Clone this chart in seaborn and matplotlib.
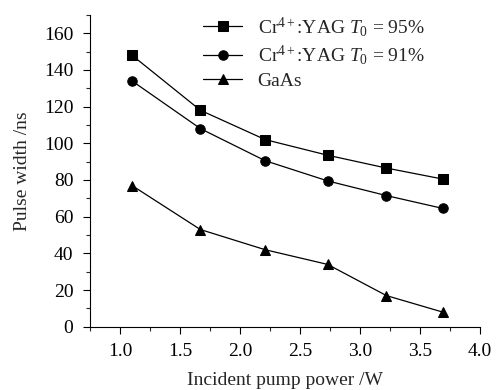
import matplotlib
matplotlib.use("Agg")
import matplotlib.pyplot as plt
import seaborn as sns
import pandas as pd
from matplotlib.ticker import MultipleLocator

# Data
power = [1.1, 1.67, 2.21, 2.73, 3.22, 3.69]
cr95 = [148, 118, 102, 93.5, 86.5, 80.5]
cr91 = [134, 108, 90.5, 79.5, 71.5, 64.5]
gaas = [77, 53, 42, 34, 17, 8]
labels = [r"Cr$^{4+}$:YAG $T_0$ = 95%", r"Cr$^{4+}$:YAG $T_0$ = 91%", "GaAs"]

df = pd.concat([
    pd.DataFrame({"power": power, "width": cr95, "series": labels[0]}),
    pd.DataFrame({"power": power, "width": cr91, "series": labels[1]}),
    pd.DataFrame({"power": power, "width": gaas, "series": labels[2]}),
], ignore_index=True)

sns.set_theme(style="ticks")
plt.rcParams["font.family"] = ["Liberation Serif", "DejaVu Serif"]
plt.rcParams["mathtext.fontset"] = "custom"
plt.rcParams["mathtext.rm"] = "Liberation Serif"
plt.rcParams["mathtext.it"] = "Liberation Serif:italic"
plt.rcParams["mathtext.bf"] = "Liberation Serif:bold"

fig = plt.figure(figsize=(4.97, 3.90), dpi=100)
ax = fig.add_axes([0.181, 0.162, 0.785, 0.80])

sns.lineplot(data=df, x="power", y="width", hue="series", style="series",
             markers={labels[0]: "s", labels[1]: "o", labels[2]: "^"},
             dashes=False, palette=["black"] * 3, markersize=6.8,
             linewidth=0.9, markeredgecolor="black", ax=ax, legend=True)

ax.set_xlim(0.75, 4.0)
ax.set_ylim(0, 170)
ax.xaxis.set_major_locator(MultipleLocator(0.5))
ax.xaxis.set_minor_locator(MultipleLocator(0.25))
ax.yaxis.set_major_locator(MultipleLocator(20))
ax.yaxis.set_minor_locator(MultipleLocator(10))
ax.set_xticks([1.0, 1.5, 2.0, 2.5, 3.0, 3.5, 4.0])
ax.set_yticks(range(0, 161, 20))
ax.tick_params(axis="both", which="major", direction="out", length=5, width=0.8,
               labelsize=14, colors="black", pad=7)
ax.tick_params(axis="both", which="minor", direction="out", length=3, width=0.8)
for s in ["top", "right"]:
    ax.spines[s].set_visible(False)
for s in ["left", "bottom"]:
    ax.spines[s].set_linewidth(0.8)
    ax.spines[s].set_color("black")

ax.set_xlabel("Incident pump power /W", fontsize=14, labelpad=8)
ax.set_ylabel("Pulse width /ns", fontsize=14, labelpad=9)

handles, labs = ax.get_legend_handles_labels()
ax.legend(handles, labs, loc="upper left", bbox_to_anchor=(0.29, 1.0),
          frameon=False, fontsize=14, handlelength=2.0, handletextpad=0.8,
          borderaxespad=0, borderpad=0, labelspacing=0.25)

fig.savefig("out.png", dpi=100)
